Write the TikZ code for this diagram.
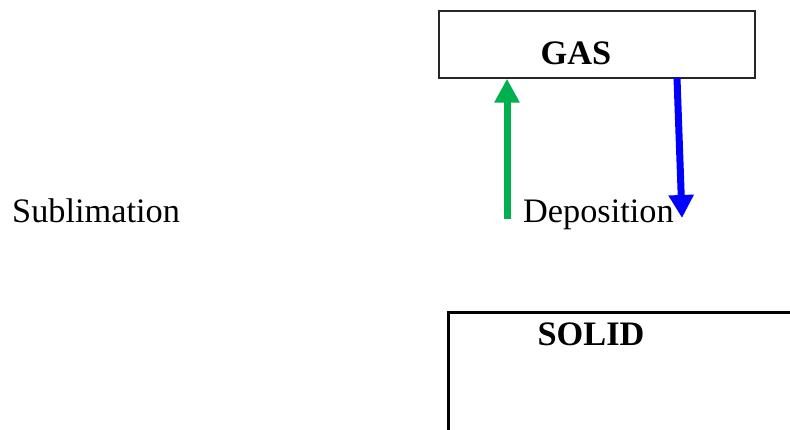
\documentclass[tikz,border=0pt]{standalone}
\usepackage{fontspec}
\setmainfont{Liberation Serif}
\usetikzlibrary{arrows.meta}
\definecolor{upgreen}{RGB}{0,176,80}
\definecolor{downblue}{RGB}{0,0,255}
\tikzset{
  phasebox/.style={draw=black!85, line width=1.4pt, inner sep=0pt},
  phaselabel/.style={font=\fontsize{34.3}{40}\selectfont\bfseries, anchor=base, inner sep=0pt},
  proclabel/.style={font=\fontsize{34.3}{40}\selectfont, anchor=base west, inner sep=0pt},
  uparrow/.style={draw=upgreen, line width=7pt, -{Triangle[width=24pt,length=24pt,fill=upgreen]}},
  downarrow/.style={draw=downblue, line width=7pt, -{Triangle[width=24pt,length=23pt,fill=downblue]}}
}
\begin{document}
\begin{tikzpicture}[x=1pt,y=-1pt]
\useasboundingbox (0,0) rectangle (790,430);
\clip (0,0) rectangle (790,430);
% gas phase box
\node[phasebox, minimum width=316pt, minimum height=67pt] (gasbox) at (597,44.5) {};
\node[phaselabel] (gastext) at (576,65) {GAS};
% solid phase box, running off the page
\node[draw=black, line width=3pt, inner sep=0pt, anchor=north west,
      minimum width=500pt, minimum height=200pt] (solidbox) at (446.5,311.5) {};
\node[phaselabel] (solidtext) at (591,345) {SOLID};
% process labels
\node[proclabel] (sublabel) at (12,223) {Sublimation};
\node[proclabel] (deplabel) at (523,223) {Deposition};
% arrows between phases
\coordinate (subfoot) at (507,219);
\draw[uparrow] (subfoot) -- (subfoot |- gasbox.south);
\coordinate (deptop) at (677,78);
\coordinate (deptip) at (682,218);
\draw[downarrow] (deptop) -- (deptip);
\end{tikzpicture}
\end{document}
